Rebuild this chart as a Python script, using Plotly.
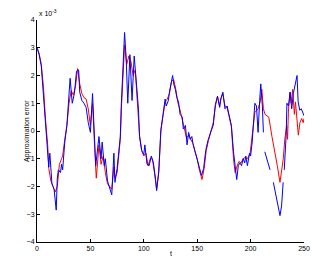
import plotly.graph_objects as go

# red series (t, value x1e-3)
t_red = [0, 2, 4, 6, 8, 10, 11, 13, 15, 17, 19, 21, 23, 24, 26, 28, 30, 32, 34, 36, 38, 40, 42, 44, 46, 48,
         50, 52, 54, 55.5, 57, 58, 60, 62, 64, 66, 68, 70, 72, 73, 75, 78, 79, 81, 82, 84, 86, 88, 90, 92,
         94, 96, 98, 100, 102, 104, 106, 108, 110, 112, 114, 116, 118, 120, 122, 124, 126, 128, 130, 132,
         134, 136, 138, 140, 142, 144, 146, 148, 150, 152, 154.5, 156.5, 158.5, 160.5, 163, 165, 167, 169,
         171, 172.5, 174, 176, 178, 180, 182, 184, 185.5, 187, 189, 191, 193, 195, 197, 199.5, 202.5, 204,
         207, 209, 210.5, 212, 213.5, 217, 220, 223, 225, 227.5, 229, 230.6, 232, 233.8, 234.6, 235.5, 237,
         238, 239.4, 241, 242, 243, 244.7, 246.2, 247.8, 249.3, 250]
v_red = [3.0, 2.8, 2.4, 1.6, 0.4, -0.5, -1.35, -1.8, -2.0, -2.2, -2.0, -1.2, -1.0, -0.9, -0.3, 0.2, 1.0, 1.45,
         1.3, 1.6, 2.25, 1.7, 1.35, 1.2, 1.15, 0.8, 0.2, 1.0, -0.6, -1.7, -1.0, -0.5, -1.2, -0.9, -1.5, -1.9,
         -2.0, -2.1, -1.3, -1.7, -1.5, -0.3, 0.8, 2.5, 3.1, 2.4, 2.7, 2.5, 2.0, 2.2, 0.9, -0.15, -0.7, -0.9,
         -0.8, -1.25, -1.0, -1.0, -1.5, -2.1, -1.5, 0.0, 0.55, 1.05, 1.15, 1.35, 1.8, 1.85, 1.5, 1.0, 0.75,
         0.4, 0.1, -0.25, -0.15, -0.3, -0.45, -0.75, -1.0, -1.4, -1.75, -1.35, -0.7, -0.35, 0.0, 0.3, 0.9,
         1.25, 0.9, 1.2, 1.35, 0.9, 0.85, 0.5, 0.15, -1.0, -1.5, -1.3, -1.1, -1.15, -1.0, -0.95, -1.0, -0.82,
         0.1, 0.67, 0.8, 1.05, 1.5, 0.8, 0.6, 0.5, -0.2, -0.8, -1.25, -1.85, -1.4, -1.0, -0.3, 0.2, -0.3, 0.8,
         1.4, 1.0, 1.5, 0.6, 1.05, 0.55, -0.15, 0.3, 0.45, 0.3, 0.45]

# blue series (t, value x1e-3), None marks gaps
t_blue = [0, 2, 4, 6, 8, 10, 11, 12, 14, 16, 18, 19, 20, 22, 23, 24, 25, 26, 28, 30, 31, 33, 35, 37, 39, 40,
          42, 44, 46, 48, 50, 52, 54, 55, 56, 58, 60, 61, 63, 64, 66, 68, 70, 72, 73, 75, 78, 79, 81, 82,
          83.5, 85, 87, 89, 91, 93, 95, 96, 98, 100, 101, 103, 105, 107, 109, 111, 112, 114, 115, 116, 118,
          120, 121, 123, 124, 126, 127, 128, 129.5, 131, 132.5, 134, 136, 137, 139, 140.5, 142, 143.5, 145,
          146, 148, 150, 152, 154, 156, 158, 160, 162, 163, 165, 167, 169, 171, 172, 174, 176, 178, 180, 182,
          184, 185.5, 187, 188.5, 190, 191.5, 193, 194.5, 195.5, 197, 199, 200, 201.5, 203, 204, 205.5, 207,
          208.5, 209.5, 211, 212, 212.7, 213.3, 216, 218.2, 219.5, 221.3, 224, 227.5, 229, 230.5, 231, 231.5,
          233.3, 234, 235.5, 237, 238.5, 240, 241.5, 243.5, 244.5, 246, 247.5, 249, 250]
v_blue = [3.0, 2.75, 2.35, 1.4, 0.2, -0.6, -1.3, -0.8, -1.9, -2.1, -2.85, -1.7, -1.4, -1.5, -1.2, -1.4, -0.9,
          -0.4, 0.2, 1.4, 1.9, 1.0, 1.35, 2.15, 2.2, 1.4, 1.1, 1.0, 0.85, 0.3, -0.05, 1.35, -0.5, -1.25, -0.9,
          -0.2, -1.0, -0.4, -1.25, -1.0, -1.8, -2.1, -2.3, -0.8, -1.85, -1.35, -0.2, 1.0, 2.6, 3.55, 2.6, 1.0,
          2.75, 1.1, 2.7, 1.8, 0.8, -0.2, -0.7, -0.85, -0.5, -1.2, -1.25, -0.9, -1.15, -1.75, -2.15, -1.45,
          -0.65, 0.05, 0.6, 1.15, 0.9, 1.1, 1.4, 1.85, 2.0, 1.7, 1.5, 1.2, 1.05, 0.6, 0.5, 0.07, 0.2, -0.5,
          -0.05, -0.3, -0.2, -0.45, -0.75, -1.0, -1.4, -1.6, -1.35, -0.7, -0.35, -0.05, 0.0, 0.2, 0.95, 1.25,
          0.85, 1.15, 1.4, 0.8, 0.9, 0.55, 0.2, -0.75, -1.3, -1.75, -1.25, -1.15, -1.25, -1.0, -1.15, -0.9,
          -1.25, -0.8, -0.9, -0.4, 0.45, 1.0, 0.9, -0.05, 1.1, 1.7, 0.9, -0.05, None, -0.75, -1.1, -1.4, None,
          -1.85, -2.4, -3.05, -2.7, -1.85, None, -1.4, -0.15, 1.0, 0.9, 1.4, 0.8, 1.35, 1.6, 2.0, 1.05, 0.75,
          0.8, 0.6, 0.55]

x_ticks = [0, 50, 100, 150, 200, 250]
y_ticks = [-4, -3, -2, -1, 0, 1, 2, 3, 4]

fig = go.Figure()
fig.add_trace(go.Scatter(x=t_red, y=v_red, mode="lines", line=dict(color="#ff0000", width=1),
                         showlegend=False))
fig.add_trace(go.Scatter(x=t_blue, y=v_blue, mode="lines", line=dict(color="#0000ff", width=1),
                         connectgaps=False, showlegend=False))

fnt = dict(family="Liberation Sans, Arial, sans-serif", size=7, color="#000000")
L, R, T, B = 37, 16, 20, 14
pw, ph = 320 - L - R, 256 - T - B
fig.update_layout(
    width=320, height=256,
    margin=dict(l=L, r=R, t=T, b=B, autoexpand=False),
    paper_bgcolor="white", plot_bgcolor="white",
    font=fnt,
    xaxis=dict(range=[0, 250], tickvals=x_ticks, ticks="inside", ticklen=3, tickcolor="black",
               showline=True, linecolor="black", linewidth=1, showgrid=False, zeroline=False,
               mirror=False, tickfont=fnt, automargin=False),
    yaxis=dict(range=[-4, 4], tickvals=y_ticks, ticks="inside", ticklen=3, tickcolor="black",
               showline=True, linecolor="black", linewidth=1, showgrid=False, zeroline=False,
               mirror=False, tickfont=fnt, automargin=False),
    annotations=[
        dict(text="x 10<sup>-3</sup>", x=0, y=1, xref="paper", yref="paper",
             xanchor="left", yanchor="bottom", showarrow=False, font=fnt, yshift=1),
        dict(text="Approximation error", x=(21 - L) / pw, y=(256 - 131 - B) / ph,
             xref="paper", yref="paper", textangle=-90, showarrow=False, font=fnt),
        dict(text="t", x=0.5, y=-(248 - (256 - B)) / ph * -1 if False else -(248 - 242) / ph,
             xref="paper", yref="paper", yanchor="top", showarrow=False, font=fnt),
    ],
)
fig.write_html("out.html")
